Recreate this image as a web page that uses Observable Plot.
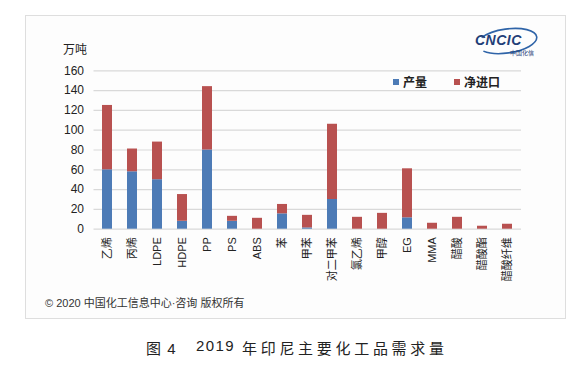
<!DOCTYPE html>
<html>
<head>
<meta charset="utf-8">
<script src="https://cdn.jsdelivr.net/npm/d3@7"></script>
<script src="https://cdn.jsdelivr.net/npm/@observablehq/plot@0.6"></script>
<style>
  html, body { margin: 0; padding: 0; background: #fff; }
  body { font-family: "Liberation Sans", "Noto Sans CJK SC", sans-serif; }
  #wrap { position: relative; width: 581px; height: 383px; overflow: hidden; }
  #frame { position: absolute; left: 25px; top: 15px; width: 539px; height: 302px; border: 1.5px solid #dedede; background: #fdfdfd; }
  #chart { position: absolute; left: 0; top: 0; }
  .abs { position: absolute; white-space: nowrap; color: #222; }
  #unit { left: 63px; top: 40px; font-size: 12px; font-family: "Noto Sans CJK SC", sans-serif; }
  #legend { left: 393px; top: 73px; font-size: 12px; font-weight: bold; font-family: "Noto Sans CJK SC", sans-serif; display: flex; align-items: center; }
  #legend .sw { display: inline-block; width: 6px; height: 6px; margin-right: 4px; }
  #legend .it { display: flex; align-items: center; margin-right: 27px; }
  #copy { left: 45px; top: 294px; font-size: 11px; color: #333; font-family: "Liberation Sans", "Noto Sans CJK SC", sans-serif; }
  .cap { top: 337px; font-size: 15px; color: #222; font-family: "Liberation Sans", "Noto Sans CJK SC", sans-serif; }
  #cap1 { left: 146px; letter-spacing: 1px; }
  #cap2 { left: 196px; letter-spacing: 1.4px; }
  #cap3 { left: 242px; letter-spacing: 3.7px; }
  #logo { left: 470px; top: 26px; }
</style>
</head>
<body>
<div id="wrap">
  <div id="frame"></div>
  <div id="chart"></div>
  <div class="abs" id="unit">万吨</div>
  <div class="abs" id="legend"></div>
  <div class="abs" id="logo">
    <svg width="72" height="34" viewBox="0 0 72 34">
      <ellipse cx="37" cy="15" rx="30" ry="12" fill="none" stroke="#2f64a8" stroke-width="1.6" transform="rotate(-8 37 15)" stroke-dasharray="60 18 100"/>
      <text x="5" y="19" font-family="Liberation Sans" font-weight="bold" font-style="italic" font-size="14" fill="#1f3f78" letter-spacing="0.5">CNCIC</text>
      <text x="40" y="29" font-family="Noto Sans CJK SC" font-size="6" fill="#1f3f78">中国化信</text>
    </svg>
  </div>
  <div class="abs" id="copy">© 2020 中国化工信息中心·咨询 版权所有</div>
  <div class="abs cap" id="cap1">图 4</div>
  <div class="abs cap" id="cap2">2019</div>
  <div class="abs cap" id="cap3">年印尼主要化工品需求量</div>
</div>
<script>
const categories = ["乙烯","丙烯","LDPE","HDPE","PP","PS","ABS","苯","甲苯","对二甲苯","氯乙烯","甲醇","EG","MMA","醋酸","醋酸酯","醋酸纤维"];
const production = [60, 58, 50, 8, 80, 8, 0, 15.5, 1.3, 30, 0, 0, 11.5, 0, 0, 0, 0];
const netImport  = [65, 23, 38, 27, 64, 5, 11, 9.5, 12.7, 76, 12, 16, 49.5, 6, 12, 3, 5];
const seriesNames = ["产量", "净进口"];
const seriesColors = ["#4d7bb6", "#b85150"];
const yTicks = [0, 20, 40, 60, 80, 100, 120, 140, 160];

const rows = [];
categories.forEach((c, i) => {
  rows.push({category: c, series: seriesNames[0], value: production[i]});
  rows.push({category: c, series: seriesNames[1], value: netImport[i]});
});

const legend = document.getElementById("legend");
seriesNames.forEach((s, i) => {
  const it = document.createElement("span");
  it.className = "it";
  it.innerHTML = `<span class="sw" style="background:${seriesColors[i]}"></span>${s}`;
  legend.appendChild(it);
});

const chart = Plot.plot({
  width: 581,
  height: 325,
  marginLeft: 93.5,
  marginRight: 60,
  marginTop: 70.3,
  marginBottom: 96.3,
  style: {background: "transparent", fontFamily: "'Liberation Sans', 'Noto Sans CJK SC', sans-serif", color: "#222"},
  x: {domain: categories, paddingInner: 0.6, paddingOuter: 0.3, label: null},
  y: {domain: [0, 160], ticks: yTicks, label: null},
  color: {domain: seriesNames, range: seriesColors},
  marks: [
    Plot.gridY(yTicks, {stroke: "#d9d9d9", strokeOpacity: 1, strokeWidth: 1.2}),
    Plot.barY(rows, {x: "category", y: "value", fill: "series", order: seriesNames}),
    Plot.axisY(yTicks, {tickSize: 0, tickPadding: 10, fontSize: 12, fill: "#222", label: null}),
    Plot.axisX({tickSize: 0, tickPadding: 8, tickRotate: -90, fontSize: 11, fill: "#222", label: null})
  ]
});
document.getElementById("chart").appendChild(chart);
</script>
</body>
</html>
